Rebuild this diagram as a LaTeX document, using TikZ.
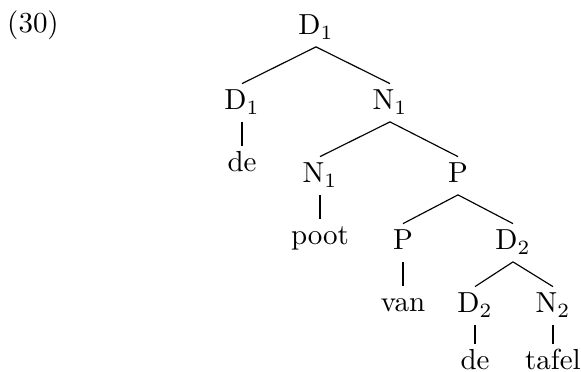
\documentclass[tikz,border=0pt]{standalone}
\begin{document}
\begin{tikzpicture}[x=0.345pt,y=-0.345pt,
    lbl/.style={anchor=base,inner sep=0.4pt,text height=8.5pt,text depth=3.5pt},
    branch/.style={line width=0.4pt}]
\useasboundingbox (0,0) rectangle (581,372);
% example number
\node[lbl] (ex) at (33,33) {(30)};
% tree nodes
\node[lbl] (d1)    at (316,35)  {$\mathrm{D}_1$};
\node[lbl] (d1a)   at (242,110) {$\mathrm{D}_1$};
\node[lbl] (n1)    at (390,110) {$\mathrm{N}_1$};
\node[lbl] (de1)   at (242,172) {de};
\node[lbl] (n1b)   at (320,183) {$\mathrm{N}_1$};
\node[lbl] (p1)    at (458,183) {P};
\node[lbl] (poot)  at (320,245) {poot};
\node[lbl] (p2)    at (403,250) {P};
\node[lbl] (d2)    at (513,250) {$\mathrm{D}_2$};
\node[lbl] (van)   at (403,312) {van};
\node[lbl] (d2b)   at (475,313) {$\mathrm{D}_2$};
\node[lbl] (n2)    at (553,313) {$\mathrm{N}_2$};
\node[lbl] (de2)   at (475,370) {de};
\node[lbl] (tafel) at (553,370) {tafel};
% branches
\draw[branch] (d1.south) -- (d1a.north);
\draw[branch] (d1.south) -- (n1.north);
\draw[branch] (d1a.south) -- (de1.north);
\draw[branch] (n1.south) -- (n1b.north);
\draw[branch] (n1.south) -- (p1.north);
\draw[branch] (n1b.south) -- (poot.north);
\draw[branch] (p1.south) -- (p2.north);
\draw[branch] (p1.south) -- (d2.north);
\draw[branch] (p2.south) -- (van.north);
\draw[branch] (d2.south) -- (d2b.north);
\draw[branch] (d2.south) -- (n2.north);
\draw[branch] (d2b.south) -- (de2.north);
\draw[branch] (n2.south) -- (tafel.north);
\end{tikzpicture}
\end{document}
